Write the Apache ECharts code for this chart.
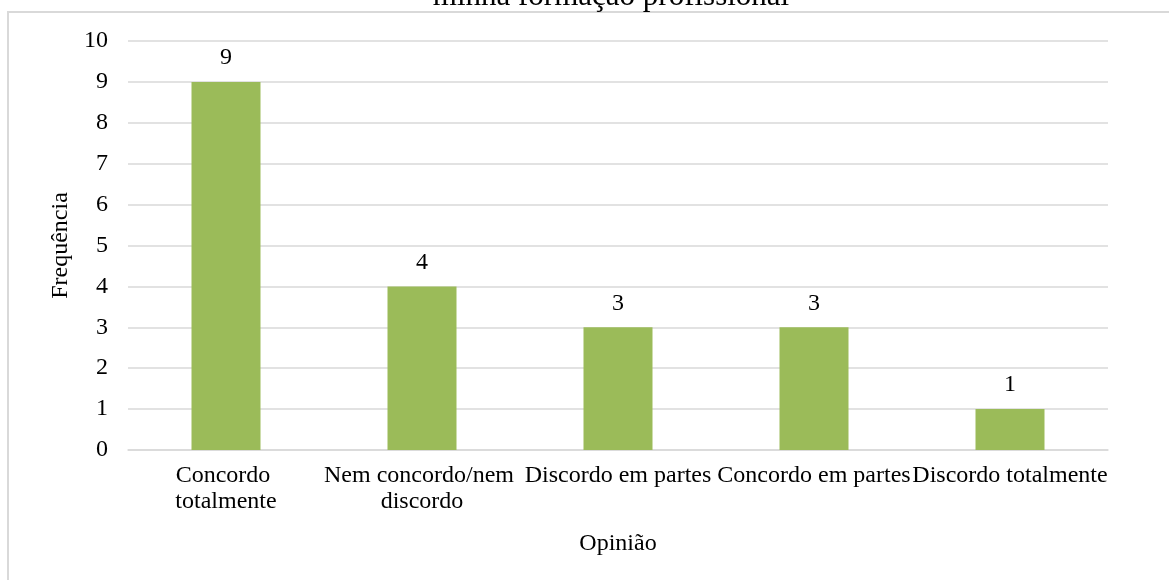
<!DOCTYPE html>
<html>
<head>
<meta charset="utf-8">
<script src="https://cdn.jsdelivr.net/npm/echarts@6/dist/echarts.min.js"></script>
<style>
  html, body { margin: 0; padding: 0; background: #fff; }
  #chart { width: 1169px; height: 580px; }
</style>
</head>
<body>
<div id="chart"></div>
<script>
// Opinion categories and how many answers each received
const categories = [
  'Concordo totalmente',
  'Nem concordo/nem discordo',
  'Discordo em partes',
  'Concordo em partes',
  'Discordo totalmente'
];
const frequencies = [9, 4, 3, 3, 1];

const titleText = 'minha formação profissional';
const xAxisName = 'Opinião';
const yAxisName = 'Frequência';

const FONT = '"Liberation Serif", "Times New Roman", serif';
const GRID_COLOR = '#d9d9d9';
const BAR_COLOR = '#9bbb59';

const chart = echarts.init(document.getElementById('chart'), null, { renderer: 'canvas' });

chart.setOption({
  animation: false,
  backgroundColor: '#fff',
  textStyle: { fontFamily: FONT, color: '#000' },
  graphic: [
    {
      // chart area frame
      type: 'rect',
      shape: { x: 8, y: 12, width: 1300, height: 700 },
      style: { fill: 'none', stroke: GRID_COLOR, lineWidth: 2 },
      silent: true
    },
    {
      type: 'text',
      x: 611,
      y: -3.5,
      style: {
        text: titleText,
        font: '31px ' + FONT,
        fill: '#000',
        align: 'center',
        verticalAlign: 'middle'
      },
      silent: true
    }
  ],
  grid: { left: 128, right: 61, top: 41, bottom: 130, containLabel: false },
  xAxis: {
    type: 'category',
    data: categories,
    name: xAxisName,
    nameLocation: 'middle',
    nameGap: 82,
    nameTextStyle: { fontFamily: FONT, fontSize: 24, color: '#000' },
    axisLine: { show: true, lineStyle: { color: GRID_COLOR, width: 1.5 } },
    axisTick: { show: false },
    axisLabel: {
      interval: 0,
      margin: 13,
      fontFamily: FONT,
      fontSize: 24,
      lineHeight: 26,
      color: '#000',
      width: 200,
      overflow: 'break',
      align: 'center'
    }
  },
  yAxis: {
    type: 'value',
    min: 0,
    max: 10,
    interval: 1,
    name: yAxisName,
    nameLocation: 'middle',
    nameGap: 47,
    nameTextStyle: { fontFamily: FONT, fontSize: 24, color: '#000' },
    axisLine: { show: false },
    axisTick: { show: false },
    axisLabel: { margin: 20, fontFamily: FONT, fontSize: 24, color: '#000' },
    splitLine: { show: true, lineStyle: { color: GRID_COLOR, width: 1.5 } }
  },
  series: [
    {
      type: 'bar',
      data: frequencies,
      barWidth: 69,
      itemStyle: { color: BAR_COLOR },
      label: {
        show: true,
        position: 'top',
        distance: 12,
        fontFamily: FONT,
        fontSize: 24,
        color: '#000'
      }
    }
  ]
});
</script>
</body>
</html>
